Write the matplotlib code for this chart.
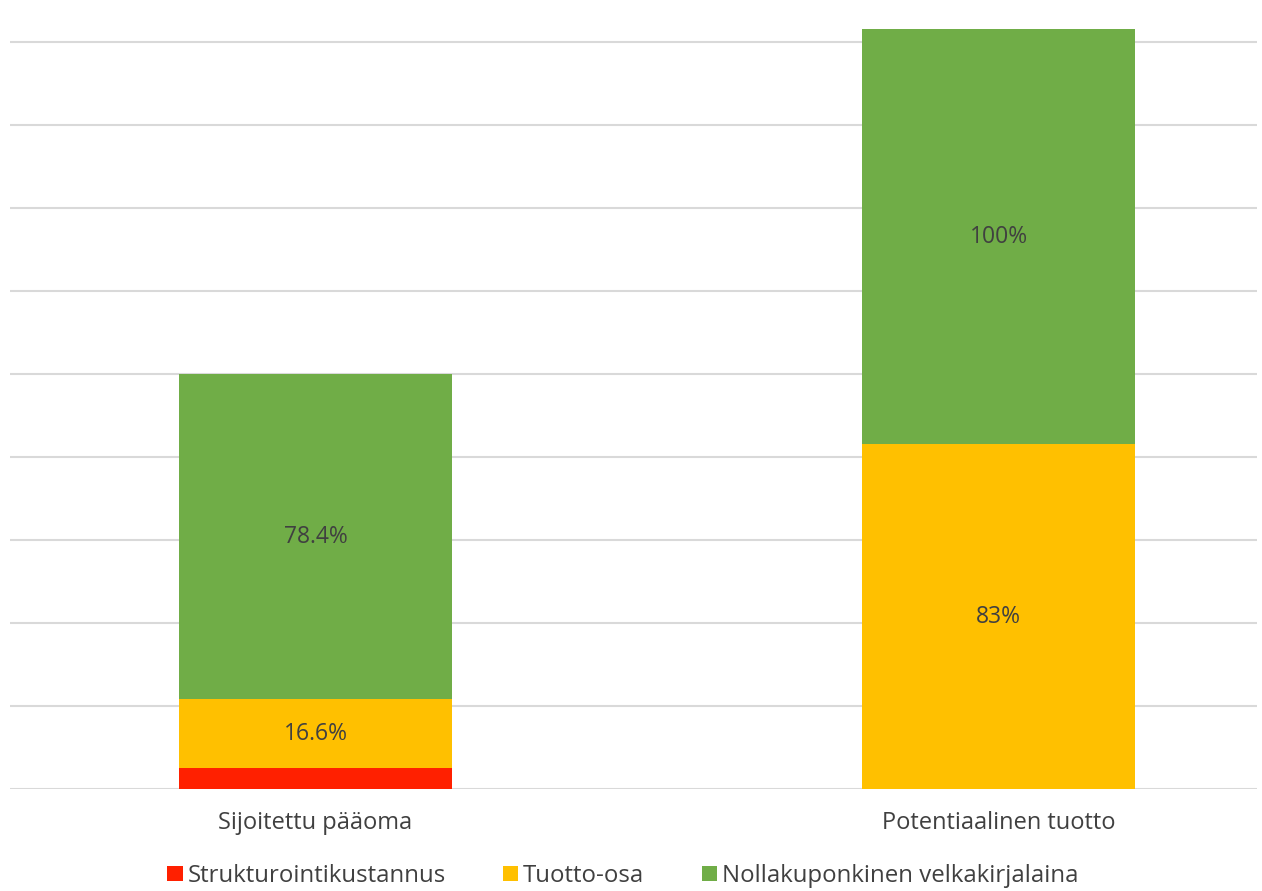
import numpy as np
import matplotlib.pyplot as plt

categories = ["Sijoitettu pääoma", "Potentiaalinen tuotto"]
series_names = ["Strukturointikustannus", "Tuotto-osa", "Nollakuponkinen velkakirjalaina"]
struct_cost = [5.0, 0.0]
tuotto_osa = [16.6, 83.0]
nollakuponki = [78.4, 100.0]
value_labels = [["", ""], ["16.6%", "83%"], ["78.4%", "100%"]]

colors = ["#ff2000", "#ffc000", "#70ad47"]
text_col = "#404040"

plt.rcParams["font.family"] = ["Open Sans", "DejaVu Sans"]

fig = plt.figure(figsize=(12.62, 8.91), dpi=100)
ax = fig.add_axes([10 / 1262, 102 / 891, 1247 / 1262, 768 / 891])

x = np.arange(len(categories))
bottom = np.zeros(len(categories))
for vals, name, col, labs in zip([struct_cost, tuotto_osa, nollakuponki],
                                 series_names, colors, value_labels):
    bars = ax.bar(x, vals, bottom=bottom, width=0.40, color=col,
                  label=name, zorder=3)
    for i, b in enumerate(bars):
        if labs[i]:
            ax.text(b.get_x() + b.get_width() / 2, bottom[i] + vals[i] / 2,
                    labs[i], ha="center", va="center", fontsize=16.5,
                    color=text_col, zorder=4)
    bottom += np.array(vals)

# category centres sit at ~315 px and ~998 px of the 1262 px figure
ax.set_xlim(-0.447, 1.378)
ax.set_ylim(0, 185)
ax.set_yticks(np.arange(0, 181, 20))
ax.yaxis.grid(True, color="#d9d9d9", linewidth=1.5, zorder=0)
ax.tick_params(axis="y", length=0, labelleft=False)
ax.tick_params(axis="x", length=0, pad=16, labelsize=17, labelcolor=text_col)
ax.set_xticks(x)
ax.set_xticklabels(categories)
for s in ax.spines.values():
    s.set_visible(False)

fig.legend(*ax.get_legend_handles_labels(), loc="center",
           bbox_to_anchor=(623 / 1262, 15 / 891), ncol=3,
           frameon=False, fontsize=17.3, handlelength=0.63, handleheight=0.63,
           handletextpad=0.2, columnspacing=2.4, labelcolor=text_col,
           borderpad=0)

fig.savefig("out.png", dpi=100)
